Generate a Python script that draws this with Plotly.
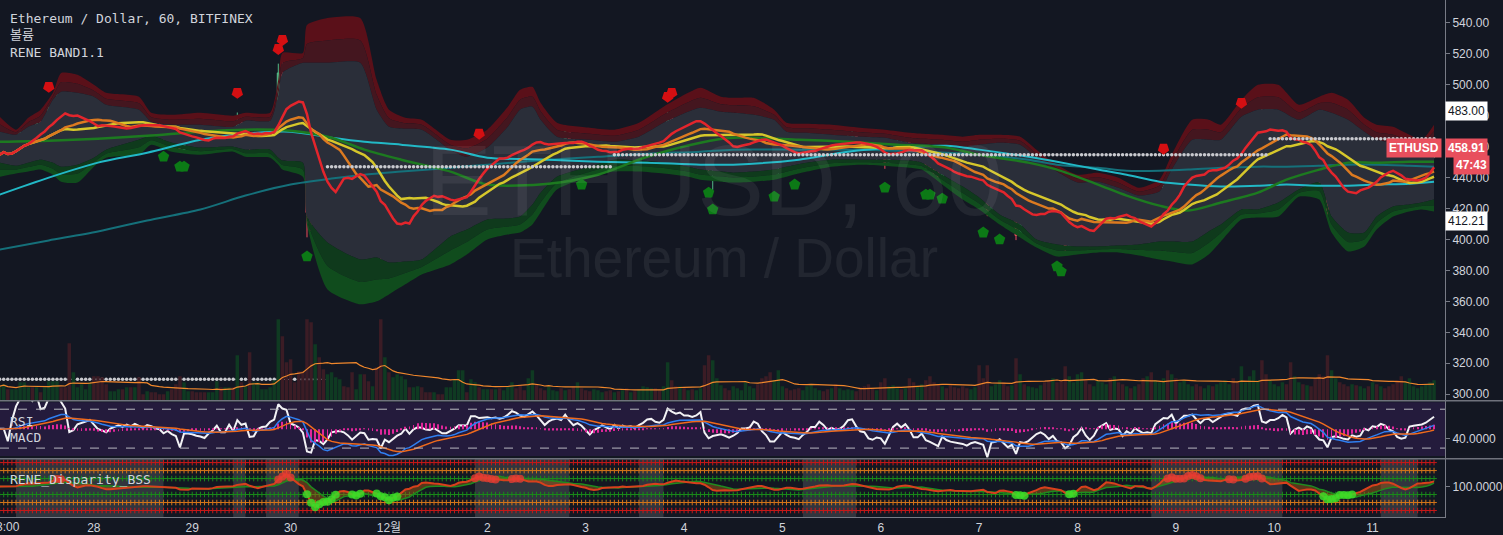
import pandas as pd
import numpy as np
import plotly.graph_objects as go

# ---------------- data (hourly ETH/USD, Bitfinex) ----------------
START = pd.Timestamp("2017-11-27 01:00")

close_a = [454.8, 458.1, 452.9, 456.8, 462.6, 469.0, 469.7, 469.7, 469.0, 475.5,
           471.0, 472.3, 485.2, 485.2, 491.0, 487.7, 484.5, 465.8, 467.7, 474.2,
           475.5, 477.4, 479.3, 475.5, 471.0, 469.7, 467.7, 471.0, 472.9, 474.2,
           472.9, 474.8, 473.5, 475.5, 474.2, 472.9, 474.8, 474.2, 472.9, 472.3,
           469.7, 471.0, 469.0, 467.7, 457.4, 466.4, 466.4, 465.8, 464.5, 463.9,
           462.6, 465.2, 467.1, 470.3, 465.8, 465.8, 471.0, 466.4, 476.1, 472.3]
close_b = [473.5, 460.0, 460.6, 467.7, 469.7, 470.3, 475.5, 478.1, 507.7, 503.2,
           501.9, 485.2, 482.6, 479.3, 471.0, 417.4, 411.6, 435.5, 432.3, 420.6,
           430.9, 447.7, 449.7, 451.0, 447.7, 439.3, 426.5, 434.2, 441.9, 440.0,
           421.3, 422.6, 421.3, 390.3, 408.4, 398.7, 406.4, 413.5, 418.1, 431.0,
           416.1, 427.7, 433.5, 432.3, 427.7, 427.1, 431.0, 425.2, 419.4, 419.4,
           423.9, 427.7, 434.2, 434.8, 434.2, 453.6, 453.6, 451.0, 451.6, 452.9]
close_c = [451.6, 452.9, 451.6, 453.6, 458.1, 464.5, 463.2, 460.6, 459.4, 463.9,
           467.7, 464.5, 460.0, 455.5, 460.0, 462.6, 463.9, 462.6, 469.7, 464.5,
           460.0, 462.6, 460.0, 454.8, 450.3, 454.8, 456.8, 460.0, 458.1, 456.1,
           460.6, 457.4, 460.0, 458.7, 459.4, 458.1, 460.6, 462.6, 465.8, 466.4,
           464.5, 463.9, 466.4, 479.4, 477.4, 476.1, 477.4, 475.5, 475.5, 474.8,
           476.1, 479.4, 464.5, 458.1, 460.0, 460.6, 461.3, 460.0, 458.1, 459.4]
close_d = [461.3, 464.5, 464.5, 465.2, 469.7, 468.4, 463.2, 460.0, 453.6, 453.6,
           456.8, 460.0, 457.4, 455.5, 454.8, 453.6, 456.1, 458.1, 461.3, 461.3,
           465.2, 463.2, 460.0, 461.3, 460.0, 460.6, 462.6, 466.4, 467.1, 463.2,
           460.0, 459.4, 454.8, 453.6, 454.8, 454.2, 449.7, 454.8, 460.0, 462.6,
           460.0, 462.6, 458.7, 451.6, 451.6, 454.2, 447.7, 445.8, 443.2, 440.6,
           447.1, 443.2, 441.3, 440.6, 439.3, 438.7, 436.8, 438.1, 438.7, 437.4]
close_e = [436.1, 418.1, 428.4, 429.0, 431.0, 425.8, 419.4, 421.3, 402.6, 414.2,
           412.9, 414.8, 418.7, 422.6, 424.5, 421.3, 414.8, 418.1, 409.7, 407.7,
           395.5, 398.7, 407.7, 411.6, 420.0, 407.7, 398.7, 404.5, 417.4, 421.3,
           426.5, 414.8, 417.4, 416.1, 403.2, 411.0, 406.4, 415.5, 411.0, 406.4,
           407.7, 406.4, 421.3, 428.4, 434.2, 433.5, 441.9, 429.0, 437.4, 447.1,
           447.1, 449.7, 443.2, 437.4, 445.2, 446.4, 441.9, 447.1, 451.6, 458.1]
close_f = [459.4, 458.1, 456.8, 469.7, 472.9, 473.5, 480.0, 481.9, 463.2, 461.3,
           466.4, 466.4, 469.7, 475.5, 472.9, 449.7, 456.1, 459.4, 455.5, 461.3,
           458.7, 447.1, 437.4, 435.5, 417.4, 433.5, 434.8, 432.3, 429.0, 427.7,
           433.5, 431.0, 432.3, 442.6, 440.0, 446.4, 445.2, 450.3, 448.4, 442.6,
           440.0, 431.0, 427.7, 429.0, 443.9, 445.2, 446.4, 447.1, 449.7, 453.6,
           458.91]
closes = close_a + close_b + close_c + close_d + close_e + close_f
first_open = 452.0

wick_up = ([1,2,1,1,1,2,1,1,1,2, 1,2,1,1,3,1,2,1,1,2, 1,1,1,2,1,1,1,2,1,1, 2,1,1,1,2,1,1,1,1,2, 1,1,2,1,2,1,1,1,1,1, 2,1,1,1,1,2,1,1,6,1]
         + [1,2,1,1,1,1,1,1,6,8, 3,1,2,1,1,1,1,2,1,1, 1,2,1,1,1,2,1,1,2,1, 2,1,1,2,1,1,1,2,1,1, 1,2,1,2,1,1,1,2,1,1, 1,1,2,1,2,1,1,2,1,1]
         + [1,2,1,1,2,1,1,2,1,1, 2,1,1,2,1,1,1,2,1,1, 2,1,1,1,2,1,1,1,2,1, 1,1,2,1,1,2,1,1,1,2, 1,1,1,3,2,1,1,2,1,1, 1,2,2,1,1,1,2,1,1,1]
         + [1,2,1,1,2,1,1,2,1,1, 2,1,1,2,1,1,2,1,1,1, 2,1,1,2,1,1,1,2,3,1, 1,1,2,1,1,1,2,1,1,2, 1,1,2,1,1,2,1,1,1,2, 1,1,1,2,1,1,2,1,1,1]
         + [2,1,1,2,1,1,2,1,1,2, 1,1,2,1,1,2,1,1,2,1, 1,2,1,1,2,1,1,2,1,1, 3,1,1,2,1,1,2,1,1,2, 1,1,2,1,1,2,3,1,1,2, 1,2,1,1,2,1,1,2,1,2]
         + [1,2,1,2,1,1,2,1,6,1, 2,1,1,2,1,1,2,1,1,2, 1,1,2,1,1,2,1,1,2,1, 1,2,1,1,2,1,1,2,1,1, 2,1,1,2,1,1,2,1,1,2, 1])
wick_dn = ([1,2,1,1,1,2,1,2,1,1, 1,1,2,1,1,2,1,8,1,1, 1,2,1,1,1,2,1,1,1,2, 1,1,2,1,1,1,2,1,1,1, 5,1,2,1,1,1,2,1,3,1, 1,2,1,1,1,2,1,1,1,2]
         + [1,2,1,1,1,1,1,1,1,1, 1,2,1,1,1,16,6,2,1,3, 1,1,2,1,1,2,3,1,1,2, 1,1,2,5,2,3,1,1,2,2, 3,1,1,2,1,2,1,1,2,1, 1,2,1,1,1,2,1,1,2,1]
         + [1,1,2,1,1,1,2,1,1,2, 1,1,2,1,2,1,1,1,2,1, 1,2,1,1,2,1,1,2,1,1, 1,2,1,1,1,2,1,1,1,2, 1,1,2,1,1,1,2,1,1,2, 1,1,2,15,26,1,2,1,1,2]
         + [1,1,2,1,1,1,2,1,1,2, 13,1,1,2,1,1,2,1,1,1, 2,1,1,2,1,1,2,1,1,1, 1,2,1,1,2,1,4,1,1,1, 2,1,1,2,1,1,2,1,1,2, 1,1,2,1,1,2,1,1,2,1]
         + [1,3,1,1,2,1,1,2,3,1, 1,2,1,1,2,1,1,2,1,1, 5,1,2,1,1,2,3,1,1,2, 1,1,2,1,3,1,1,2,1,1, 2,1,1,2,1,1,1,2,1,1, 2,1,1,2,1,1,2,1,1,2]
         + [1,1,2,1,1,2,1,1,1,2, 1,1,2,1,1,4,1,1,2,1, 1,2,1,1,4,2,1,1,2,1, 1,2,1,1,2,1,1,2,1,1, 2,1,2,1,1,2,1,1,2,1, 1])

volume = ([14,16,11,11,11,18,18,13,13,13, 8,13,19,19,19,13,13,57,28,13, 16,11,18,24,24,23,16,9,9,11,
           11,13,13,13,23,6,9,8,8,6, 6,9,11,16,24,18,9,9,8,8, 8,8,8,19,13,13,13,13,45,18,
           14,48,18,18,11,11,13,20,81,64, 38,41,18,29,29,81,78,56,43,31, 26,28,23,21,14,13,28,11,26,26,
           19,14,33,81,43,28,23,26,24,21, 13,13,14,13,8,8,8,6,6,13, 13,21,30,30,8,21,18,13,11,11,
           11,11]
          + [12,10,14,18,12,15,10,22,30,16,12,10,14,10,9,12,10,11]
          + [14,18,12,10,9,11,10,8,9,10, 8,9,10,12,8,9,11,14,13,12]
          + [12,10,14,38,20,14,14,12,10,11, 10,12,35,45,40,22,15,12,10,14]
          + [12,10,18,14,12,16,22,24,28,20, 30,14,12,10,11,12,10,14,16,12]
          + [10,9,11,12,16,12,10,11,10,9, 13,14,16,12,10,18,22,14,15,12]
          + [11,12,22,18,14,16,20,24,18,16, 14,12,15,13,12,14,12,11,13,35]
          + [22,35,14,16,20,18,14,15,42,26, 16,14,13,12,15,18,20,22,18,20]
          + [34,24,18,26,28,20,16,14,20,18, 16,22,24,18,16,14,12,14,16,22]
          + [24,28,20,18,22,30,26,22,18,20, 16,14,16,14,12,15,14,16,18,20]
          + [16,22,18,34,18,24,30,20,40,26, 20,16,14,18,16,38,24,18,16,15]
          + [14,22,26,24,45,30,22,18,16,14, 16,15,14,12,14,18,16,14,12,14]
          + [16,20,24,18,22,14,12,14,16,18,20])

# RENE BAND envelope (hours after START, prices)
band_hours = [0,4,7,10,13,15,19,23,26,34, 37,42,49,57,60,66,68,69,74,75,
              80,88,92,95,99,103,110,114,119,124, 127,130,132,136,144,150,156,162,168,171,
              176,179,184,189,192,197,203,210,216,222, 225,230,235,239,244,249,253,258,263,268,
              273,278,283,286,291,295,298,303,307,312, 317,322,325,329,333,336,340,344,347,350]
band_outer_top = [479.4,471.0,478.7,483.9,494.8,507.7,506.5,500.0,494.8,492.3,
                  481.9,480.6,481.9,480.0,481.9,481.9,503.2,520.6,520.6,538.7,
                  543.2,543.2,503.2,483.9,478.7,477.4,464.5,464.5,471.0,485.8,
                  496.8,498.7,488.4,475.5,472.3,471.0,475.5,485.8,494.8,498.1,
                  492.3,491.6,491.6,483.9,475.5,474.8,474.2,472.3,471.0,469.0,
                  468.4,467.7,466.5,467.7,467.7,466.5,458.1,448.4,441.9,443.2,
                  440.0,433.5,438.7,454.8,477.4,477.4,474.2,490.3,500.0,500.0,
                  487.1,492.3,494.8,490.3,478.7,474.2,472.9,467.7,464.5,474.2]
band_inner_top = [469.7,467.7,472.9,476.1,490.3,495.5,494.8,492.3,487.1,483.9,
                  476.1,474.2,474.2,472.9,476.8,476.8,493.5,507.7,514.2,514.2,
                  514.2,514.2,483.9,472.9,471.6,471.0,458.1,453.5,459.4,472.9,
                  483.9,485.8,477.4,466.5,464.5,463.2,466.5,475.5,482.6,485.2,
                  482.6,481.9,480.6,477.4,469.7,469.0,467.7,466.5,465.8,462.6,
                  461.9,461.3,460.0,461.3,462.6,461.3,452.9,443.9,436.8,437.4,
                  433.5,428.4,431.0,445.2,464.5,464.5,464.5,479.4,483.9,483.9,
                  477.4,483.9,481.9,477.4,469.7,464.5,462.6,460.0,460.0,465.8]
band_inner_bot = [449.7,447.7,449.7,451.6,449.7,447.1,448.4,452.9,458.1,464.5,
                  467.1,462.6,459.4,460.0,458.1,458.1,452.9,451.0,449.7,414.8,
                  398.1,387.1,388.4,385.2,385.8,387.1,401.9,406.4,412.9,413.5,
                  414.8,422.6,430.3,440.6,447.1,451.6,451.0,449.7,447.1,445.2,
                  443.9,443.2,443.9,445.2,447.1,449.7,451.6,451.6,451.6,451.0,
                  449.7,441.9,434.2,427.1,416.1,409.7,400.0,396.8,395.5,395.5,
                  396.1,396.8,398.7,398.7,398.7,405.2,409.7,419.4,419.4,423.9,
                  432.3,436.8,414.8,404.5,404.5,414.8,421.3,422.6,423.9,425.8]
band_outer_bot = [440.6,442.6,443.9,445.2,441.9,437.4,436.8,447.1,452.9,454.8,
                  461.3,456.8,454.8,456.8,453.5,452.9,448.4,445.2,440.6,409.7,
                  367.7,358.1,360.0,364.5,371.0,377.4,383.9,390.3,400.0,403.2,
                  404.5,409.7,417.4,432.3,440.6,443.9,443.9,442.6,440.6,438.7,
                  437.4,436.8,437.4,438.7,440.6,443.9,447.1,448.4,447.7,446.4,
                  445.2,435.5,425.8,419.4,409.7,401.3,394.8,389.0,390.3,391.6,
                  391.6,389.7,387.1,385.8,383.9,390.3,398.7,412.9,414.2,414.8,
                  427.7,425.8,404.5,392.3,395.5,406.4,414.8,418.1,419.4,418.1]

# long moving averages (hours after START, prices)
ma_hours = [0,12,24,36,49,60,71,81,89,98,110,119,134,146,158,171,179,195,207,219,
            231,239,251,258,268,275,283,290,298,307,314,322,329,336,344,350]
ma_green = [463.2,463.9,465.2,467.1,469.7,471.0,470.3,465.8,458.1,451.6,443.9,435.5,436.1,441.9,453.5,462.6,465.8,464.5,463.2,461.3,
            459.4,454.8,449.7,445.2,435.5,428.4,421.9,418.7,423.9,430.3,438.7,445.2,449.7,449.7,450.3,450.3]
ma_cyan = [429.0,440.0,449.7,456.1,464.5,468.4,469.7,465.8,463.2,461.3,458.1,452.9,451.6,450.3,449.7,448.4,448.4,451.6,456.8,459.4,
           460.6,458.1,453.5,450.3,445.2,441.9,437.4,435.5,434.2,434.8,435.5,434.8,434.8,435.5,436.1,437.4]
ma_teal = [393.5,399.4,405.2,412.3,419.4,428.4,435.5,439.4,441.9,443.9,446.4,448.4,451.6,453.5,455.5,456.8,458.1,458.1,458.1,457.4,
           456.1,454.8,451.6,448.4,446.4,444.5,444.5,445.2,446.4,447.1,447.1,447.7,448.4,448.4,447.7,447.1]

# dotted support / resistance levels (start hour, end hour, price)
level_start = [0, 80, 150, 310]
level_end = [80, 150, 310, 351]
level_price = [309.7, 447.1, 454.8, 465.2]

# signal markers (candle index, price)
sell_idx = [12, 58, 68, 69, 117, 163, 164, 284, 303]
sell_price = [498.7, 494.8, 523.2, 529.0, 468.4, 492.3, 494.8, 458.7, 488.4]
buy_idx = [40, 44, 45, 75, 142, 173, 174, 189, 194, 216, 226, 227, 230, 240, 244, 258, 259]
buy_price = [453.5, 447.1, 447.1, 389.0, 435.5, 430.3, 419.4, 427.7, 435.5, 433.5, 429.0, 429.0, 426.4, 404.5, 400.0, 382.6, 379.3]

# disparity pane shaded columns (hours)
shade_start = [4, 57, 65, 116, 156, 196, 281, 337]
shade_end = [40, 60, 73, 139, 162, 209, 313, 346]

day_ticks = ["2017-11-28", "2017-11-29", "2017-11-30", "2017-12-01", "2017-12-02",
             "2017-12-03", "2017-12-04", "2017-12-05", "2017-12-06", "2017-12-07", "2017-12-08",
             "2017-12-09", "2017-12-10", "2017-12-11"]
day_labels = ["28", "29", "30", "12월", "2", "3", "4", "5", "6", "7", "8", "9", "10", "11"]
first_tick_time = "2017-11-27 03:00"
first_tick_label = "3:00"
price_ticks = [300, 320, 340, 360, 380, 400, 420, 440, 460, 480, 500, 520, 540]
disp_levels = [112, 108, 104, 96, 92, 88]
disp_level_colors = ["#c81818", "#d4751a", "#1a8a1a", "#1a8a1a", "#d4751a", "#c81818"]

# ---------------- derived ----------------
n = min(len(closes), len(wick_up), len(wick_dn), len(volume))
closes = closes[:n]
times = START + pd.to_timedelta(np.arange(n), unit="h")
opens = [first_open] + closes[:-1]
highs = [max(o, c) + w for o, c, w in zip(opens, closes, wick_up[:n])]
lows = [min(o, c) - w for o, c, w in zip(opens, closes, wick_dn[:n])]
cs = pd.Series(closes)
sma_fast = cs.rolling(8, min_periods=1).mean()
sma_mid = cs.rolling(16, min_periods=1).mean()
sma_slow = cs.rolling(24, min_periods=1).mean()
vol = pd.Series(volume[:n])
vol_ma = vol.rolling(20, min_periods=1).mean()

delta = cs.diff().fillna(0)
gain = delta.clip(lower=0).ewm(alpha=1/14, adjust=False).mean()
loss = (-delta.clip(upper=0)).ewm(alpha=1/14, adjust=False).mean()
rsi = (100 - 100 / (1 + gain / loss.replace(0, np.nan))).fillna(50)
macd = cs.ewm(span=12, adjust=False).mean() - cs.ewm(span=26, adjust=False).mean()
signal = macd.ewm(span=9, adjust=False).mean()
hist = macd - signal

disp_fast = cs.rolling(3, min_periods=1).mean() / cs.rolling(20, min_periods=1).mean() * 100
disp_slow = cs.rolling(8, min_periods=1).mean() / cs.rolling(30, min_periods=1).mean() * 100
low_sig = disp_fast.where(disp_fast < 96.5)
high_sig = disp_fast.where(disp_fast > 103.5)

def h2t(h):
    return START + pd.to_timedelta(np.asarray(h, dtype=float), unit="h")

bt = h2t(band_hours)
u2 = np.array(band_outer_top); u0 = np.array(band_inner_top)
l0 = np.array(band_inner_bot); l2 = np.array(band_outer_bot)
u1 = (u2 + u0) / 2
l1 = (l0 + l2) / 2

BG = "#131722"
fig = go.Figure()

def band(y, fillcolor=None):
    fig.add_trace(go.Scatter(x=bt, y=y, mode="lines", line=dict(width=0, shape="spline", smoothing=0.6),
                             fill="tonexty" if fillcolor else None, fillcolor=fillcolor,
                             hoverinfo="skip", showlegend=False))

band(u2)
band(u1, "#5a1019")
band(u0, "#44161f")
band(l0, "#2a2e39")
band(l1, "#0f3a1c")
band(l2, "#104c1d")

mt = h2t(ma_hours)
for y, col, w in [(ma_teal, "#15707a", 2), (ma_cyan, "#22b8c6", 2), (ma_green, "#1d7a20", 2.5)]:
    fig.add_trace(go.Scatter(x=mt, y=y, mode="lines", line=dict(color=col, width=w, shape="spline", smoothing=0.8),
                             hoverinfo="skip", showlegend=False))
for y, col in [(sma_slow, "#d6c72b"), (sma_mid, "#dc7a20"), (sma_fast, "#e3252c")]:
    fig.add_trace(go.Scatter(x=times, y=y, mode="lines", line=dict(color=col, width=2.5),
                             hoverinfo="skip", showlegend=False))

fig.add_trace(go.Candlestick(x=times, open=opens, high=highs, low=lows, close=closes,
                             increasing=dict(line=dict(color="#53b987", width=1), fillcolor="#53b987"),
                             decreasing=dict(line=dict(color="#eb4d5c", width=1), fillcolor="#eb4d5c"),
                             whiskerwidth=0, showlegend=False, hoverinfo="skip"))

# dotted levels
for s, e, p in zip(level_start, level_end, level_price):
    fig.add_trace(go.Scatter(x=h2t(np.arange(s, e)), y=[p] * (e - s), mode="markers",
                             marker=dict(size=3.5, color="#c9cacf"), hoverinfo="skip", showlegend=False))

fig.add_trace(go.Scatter(x=times[sell_idx], y=sell_price, mode="markers",
                         marker=dict(symbol="pentagon", angle=180, size=12, color="#d40f12"),
                         hoverinfo="skip", showlegend=False))
fig.add_trace(go.Scatter(x=times[buy_idx], y=buy_price, mode="markers",
                         marker=dict(symbol="pentagon", size=12, color="#0c7a16"),
                         hoverinfo="skip", showlegend=False))

# volume (overlay)
vcol = ["#0f3a22" if c >= o else "#3b1c25" for o, c in zip(opens, closes)]
fig.add_trace(go.Bar(x=times, y=vol, marker=dict(color=vcol, line=dict(width=0)), yaxis="y2",
                     hoverinfo="skip", showlegend=False))
fig.add_trace(go.Scatter(x=times, y=vol_ma, mode="lines", line=dict(color="#f0872c", width=1.2),
                         yaxis="y2", hoverinfo="skip", showlegend=False))

# RSI / MACD pane
fig.add_trace(go.Bar(x=times, y=hist, marker=dict(color="#e0269a", line=dict(width=0)), width=1000 * 60 * 12,
                     yaxis="y5", hoverinfo="skip", showlegend=False))
fig.add_trace(go.Scatter(x=times, y=macd, mode="lines", line=dict(color="#2f7ff0", width=1.5), yaxis="y5",
                         hoverinfo="skip", showlegend=False))
fig.add_trace(go.Scatter(x=times, y=signal, mode="lines", line=dict(color="#ef6a1c", width=1.5), yaxis="y5",
                         hoverinfo="skip", showlegend=False))
fig.add_trace(go.Scatter(x=times, y=rsi, mode="lines", line=dict(color="#f2f2f5", width=2), yaxis="y3",
                         hoverinfo="skip", showlegend=False))

# Disparity pane
for lvl, col in zip(disp_levels, disp_level_colors):
    fig.add_trace(go.Scatter(x=times, y=[lvl] * n, mode="markers", yaxis="y4",
                             marker=dict(symbol="cross-thin", size=4, line=dict(color=col, width=1)),
                             hoverinfo="skip", showlegend=False))
fig.add_trace(go.Scatter(x=times, y=disp_slow, mode="lines", line=dict(color="#1f8a1f", width=1.5), yaxis="y4",
                         hoverinfo="skip", showlegend=False))
fig.add_trace(go.Scatter(x=times, y=disp_fast, mode="lines", line=dict(color="#d8401c", width=2), yaxis="y4",
                         fill="tonexty", fillcolor="rgba(170,95,20,0.45)", hoverinfo="skip", showlegend=False))
fig.add_trace(go.Scatter(x=times, y=low_sig, mode="markers", yaxis="y4",
                         marker=dict(size=8, color="rgba(60,220,40,0.85)"), hoverinfo="skip", showlegend=False))
fig.add_trace(go.Scatter(x=times, y=high_sig, mode="markers", yaxis="y4",
                         marker=dict(size=8, color="rgba(230,60,50,0.8)"), hoverinfo="skip", showlegend=False))

shapes = []
for s, e in zip(shade_start, shade_end):
    shapes.append(dict(type="rect", xref="x", yref="y4 domain", x0=h2t(s), x1=h2t(e), y0=0, y1=1,
                       fillcolor="rgba(255,255,255,0.13)", line=dict(width=0), layer="below"))
shapes.append(dict(type="rect", xref="paper", yref="y3", x0=0, x1=1, y0=21.8, y1=77.2,
                   fillcolor="#241b3c", line=dict(width=0), layer="below"))
for lv in [70, 30]:
    shapes.append(dict(type="line", xref="paper", yref="y3", x0=0, x1=1, y0=lv, y1=lv,
                       line=dict(color="#b8b8c0", width=1, dash="dash")))
for py in [0.2249, 0.1129]:
    shapes.append(dict(type="line", xref="paper", yref="paper", x0=0, x1=1.04, y0=py, y1=py,
                       line=dict(color="#6f727c", width=1.5)))

ann = []
mono = "DejaVu Sans Mono, Noto Sans CJK KR, monospace"
for txt, ypx in [("Ethereum / Dollar, 60, BITFINEX", 19), ("볼륨", 35), ("RENE BAND1.1", 53)]:
    ann.append(dict(text=txt, xref="paper", yref="paper", x=8 / 1447, y=1 - ypx / 518, xanchor="left",
                    yanchor="middle", showarrow=False, font=dict(family=mono, size=13, color="#d1d4dc")))
for txt, ypx in [("RSI", 422), ("MACD", 438), ("RENE_Disparity_BSS", 480)]:
    ann.append(dict(text=txt, xref="paper", yref="paper", x=8 / 1447, y=1 - ypx / 518, xanchor="left",
                    yanchor="middle", showarrow=False, font=dict(family=mono, size=13, color="#d1d4dc")))
ann.append(dict(text=first_tick_label, xref="x", yref="paper", x=first_tick_time, y=0, yanchor="top", yshift=-1,
                showarrow=False, font=dict(family="Liberation Sans", size=12, color="#d1d4dc")))
ann.append(dict(text="ETHUSD, 60", xref="paper", yref="paper", x=715 / 1447, y=1 - 180 / 518,
                showarrow=False, font=dict(family="Liberation Sans, Arial", size=100, color="rgba(255,255,255,0.065)")))
ann.append(dict(text="Ethereum / Dollar", xref="paper", yref="paper", x=725 / 1447, y=1 - 258 / 518,
                showarrow=False, font=dict(family="Liberation Sans, Arial", size=55, color="rgba(255,255,255,0.065)")))
ann.append(dict(text="<b>ETHUSD</b>", xref="paper", yref="y", x=1444 / 1447, y=closes[-1], xanchor="right",
                showarrow=False, bgcolor="#e84f5d", borderpad=2, font=dict(family="Liberation Sans", size=12, color="white")))
ann.append(dict(text="<b>%.2f</b>" % closes[-1], xref="paper", yref="y", x=1.0, y=closes[-1], xanchor="left",
                showarrow=False, bgcolor="#e84f5d", borderpad=2, font=dict(family="Liberation Sans", size=12, color="white")))
ann.append(dict(text="<b>47:43</b>", xref="paper", yref="y", x=1.0, y=closes[-1], xanchor="left", yshift=-17,
                xshift=8, showarrow=False, bgcolor="#e84f5d", borderpad=2,
                font=dict(family="Liberation Sans", size=12, color="white")))
for p in [483.00, 412.21]:
    ann.append(dict(text="%.2f" % p, xref="paper", yref="y", x=1.0, y=p, xanchor="left",
                    showarrow=False, bgcolor="#ffffff", borderpad=2,
                    font=dict(family="Liberation Sans", size=12, color="#131722")))

axis_font = dict(family="Liberation Sans, Arial", size=12, color="#d1d4dc")
fig.update_layout(
    width=1503, height=535, paper_bgcolor=BG, plot_bgcolor=BG,
    margin=dict(l=0, r=56, t=0, b=17), showlegend=False, bargap=0.15,
    shapes=shapes, annotations=ann,
    xaxis=dict(type="date", range=["2017-11-27 01:05:45", "2017-12-11 17:40:30"], anchor="y4",
               rangeslider=dict(visible=False), showgrid=False, zeroline=False, showline=True,
               linecolor="#787b86", tickvals=day_ticks, ticktext=day_labels,
               tickfont=dict(family="Liberation Sans, Noto Sans CJK KR", size=12, color="#d1d4dc"), ticks=""),
    yaxis=dict(domain=[0.2259, 1], range=[296.1, 554.84], side="right", showgrid=False, zeroline=False,
               tickvals=price_ticks, ticktext=["%.2f" % v for v in price_ticks], tickfont=axis_font,
               showline=True, linecolor="#787b86", ticks="outside", ticklen=4, tickcolor="#787b86", anchor="x"),
    yaxis2=dict(overlaying="y", range=[0, 401], visible=False),
    yaxis3=dict(domain=[0.1139, 0.2239], range=[19.7, 78.2], side="right", showgrid=False, zeroline=False,
                tickvals=[40], ticktext=["40.0000"], tickfont=axis_font, showline=True, linecolor="#787b86",
                ticks="outside", ticklen=4, tickcolor="#787b86", anchor="x"),
    yaxis5=dict(overlaying="y3", range=[-15.9, 15.4], visible=False),
    yaxis4=dict(domain=[0, 0.112], range=[84.75, 113.75], side="right", showgrid=False, zeroline=False,
                tickvals=[100], ticktext=["100.0000"], tickfont=axis_font, showline=True, linecolor="#787b86",
                ticks="outside", ticklen=4, tickcolor="#787b86", anchor="x"),
)
fig.write_html("out.html", config={"displayModeBar": False},
               post_script="document.body.style.margin='0';document.body.style.overflow='hidden';")
